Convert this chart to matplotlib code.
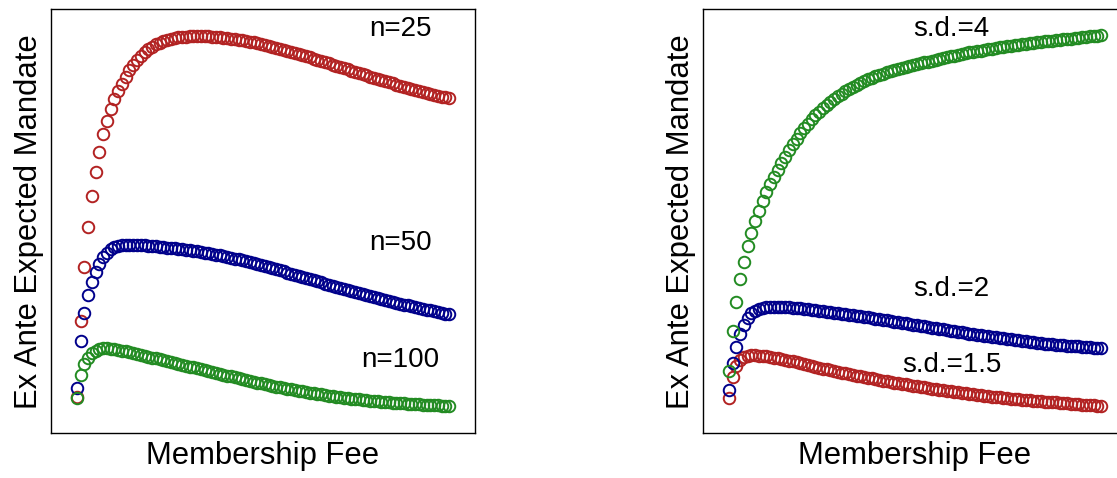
import numpy as np
import matplotlib
matplotlib.use("Agg")
import matplotlib.pyplot as plt

plt.rcParams['font.family'] = ['Liberation Sans', 'DejaVu Sans']

# membership fee grid (100 steps)
fee = np.arange(1, 101)

# left panel: ex ante expected mandate by group size n
n25 = [35.7, 112.5, 166.0, 206.0, 237.0, 261.3, 281.5, 298.7, 312.5, 324.5,
       334.0, 342.0, 349.0, 356.5, 362.8, 368.2, 373.0, 377.2, 380.8, 383.9,
       386.5, 388.7, 390.5, 392.0, 393.2, 394.2, 395.0, 395.6, 396.1, 396.4,
       396.6, 396.7, 396.8, 396.8, 396.7, 396.6, 396.4, 396.1, 395.8, 395.4,
       395.0, 394.5, 394.0, 393.4, 392.8, 392.1, 391.4, 390.7, 389.9, 389.1,
       388.2, 387.3, 386.4, 385.4, 384.4, 383.4, 382.3, 381.2, 380.1, 379.0,
       377.9, 376.8, 375.6, 374.4, 373.2, 372.0, 370.8, 369.6, 368.4, 367.2,
       366.0, 364.8, 363.6, 362.4, 361.2, 360.0, 358.8, 357.6, 356.4, 355.2,
       354.0, 352.9, 351.8, 350.7, 349.6, 348.5, 347.5, 346.5, 345.5, 344.5,
       343.5, 342.5, 341.5, 340.5, 339.5, 338.5, 337.5, 336.5, 335.6, 334.7]

n50 = [45.5, 92.0, 119.7, 138.5, 151.3, 161.0, 169.5, 176.0, 180.5, 183.7,
       185.7, 187.0, 187.8, 188.2, 188.4, 188.4, 188.3, 188.1, 187.8, 187.5,
       187.1, 186.7, 186.3, 185.9, 185.5, 185.1, 184.8, 184.4, 183.9, 183.5,
       183.0, 182.4, 181.8, 181.2, 180.5, 179.8, 179.1, 178.4, 177.7, 176.9,
       176.1, 175.3, 174.5, 173.7, 172.7, 171.8, 170.9, 169.9, 168.9, 167.9,
       166.9, 165.9, 164.9, 163.8, 162.7, 161.6, 160.5, 159.4, 158.3, 157.2,
       156.1, 155.0, 153.9, 152.8, 151.7, 150.6, 149.5, 148.4, 147.3, 146.2,
       145.1, 144.1, 143.1, 142.1, 141.1, 140.1, 139.1, 138.1, 137.1, 136.1,
       135.1, 134.1, 133.1, 132.1, 131.2, 130.3, 129.4, 128.5, 127.6, 126.7,
       125.9, 125.1, 124.3, 123.5, 122.7, 121.9, 121.1, 120.3, 119.5, 118.7]

n100 = [35.2, 58.0, 69.0, 75.5, 80.0, 82.5, 84.0, 84.6, 84.6, 84.3,
        83.8, 83.2, 82.5, 81.7, 80.9, 80.0, 79.1, 78.2, 77.3, 76.4,
        75.5, 74.6, 73.7, 72.8, 71.9, 71.0, 70.1, 69.2, 68.3, 67.4,
        66.5, 65.6, 64.7, 63.8, 62.9, 62.0, 61.1, 60.2, 59.3, 58.4,
        57.5, 56.6, 55.7, 54.8, 53.9, 53.0, 52.1, 51.3, 50.5, 49.7,
        48.9, 48.1, 47.3, 46.5, 45.8, 45.1, 44.4, 43.7, 43.0, 42.3,
        41.6, 41.0, 40.4, 39.8, 39.2, 38.6, 38.0, 37.5, 37.0, 36.5,
        36.0, 35.5, 35.0, 34.5, 34.0, 33.6, 33.2, 32.8, 32.4, 32.0,
        31.7, 31.4, 31.1, 30.8, 30.5, 30.2, 29.9, 29.6, 29.3, 29.0,
        28.8, 28.6, 28.4, 28.2, 28.0, 27.8, 27.6, 27.4, 27.2, 27.0]

# right panel: by standard deviation
sd15 = [34.7, 56.3, 67.0, 73.0, 76.0, 77.4, 77.9, 77.8, 77.5, 77.1,
        76.6, 76.0, 75.4, 74.7, 74.0, 73.3, 72.5, 71.7, 70.8, 69.9,
        69.0, 68.1, 67.2, 66.3, 65.4, 64.5, 63.7, 62.9, 62.1, 61.3,
        60.5, 59.7, 58.9, 58.1, 57.4, 56.7, 56.0, 55.3, 54.6, 53.9,
        53.2, 52.5, 51.8, 51.1, 50.5, 49.9, 49.3, 48.7, 48.1, 47.5,
        46.9, 46.3, 45.7, 45.1, 44.5, 43.9, 43.3, 42.8, 42.3, 41.8,
        41.3, 40.8, 40.3, 39.8, 39.3, 38.8, 38.3, 37.8, 37.3, 36.8,
        36.4, 36.0, 35.6, 35.2, 34.8, 34.4, 34.0, 33.6, 33.3, 33.0,
        32.7, 32.4, 32.1, 31.8, 31.5, 31.2, 30.9, 30.6, 30.3, 30.0,
        29.7, 29.4, 29.1, 28.8, 28.5, 28.2, 27.9, 27.6, 27.3, 27.0]

sd2 = [43.0, 70.3, 86.3, 99.0, 108.0, 114.7, 119.7, 122.5, 124.1, 125.0,
       125.6, 126.0, 126.2, 126.3, 126.2, 126.0, 125.7, 125.4, 125.0, 124.6,
       124.2, 123.8, 123.4, 122.9, 122.4, 121.9, 121.4, 120.9, 120.4, 119.9,
       119.4, 118.9, 118.4, 117.9, 117.4, 116.9, 116.3, 115.7, 115.1, 114.5,
       113.9, 113.3, 112.7, 112.1, 111.5, 110.9, 110.3, 109.7, 109.1, 108.5,
       107.9, 107.3, 106.7, 106.1, 105.5, 104.9, 104.3, 103.7, 103.1, 102.5,
       101.9, 101.3, 100.7, 100.1, 99.5, 98.9, 98.3, 97.8, 97.3, 96.8,
       96.3, 95.8, 95.3, 94.8, 94.3, 93.8, 93.3, 92.8, 92.3, 91.8,
       91.3, 90.8, 90.3, 89.9, 89.5, 89.1, 88.7, 88.4, 88.1, 87.8,
       87.5, 87.2, 86.9, 86.6, 86.3, 86.0, 85.7, 85.4, 85.1, 84.8]

sd4 = [62.3, 102.3, 131.3, 153.7, 171.5, 187.0, 200.5, 212.0, 222.5, 232.0,
       240.7, 248.7, 256.1, 263.2, 270.0, 276.5, 282.8, 288.8, 294.5, 299.8,
       304.8, 309.4, 313.7, 317.6, 321.3, 324.8, 328.1, 331.2, 334.1, 336.9,
       339.5, 341.9, 344.1, 346.2, 348.2, 350.1, 351.9, 353.6, 355.2, 356.7,
       358.1, 359.4, 360.6, 361.8, 362.9, 363.9, 364.8, 365.7, 366.7, 367.7,
       368.7, 369.7, 370.6, 371.5, 372.4, 373.3, 374.2, 375.0, 375.8, 376.6,
       377.4, 378.2, 379.0, 379.8, 380.6, 381.2, 381.8, 382.5, 383.1, 383.7,
       384.3, 385.0, 385.6, 386.2, 386.7, 387.2, 387.7, 388.2, 388.8, 389.3,
       389.8, 390.3, 390.8, 391.2, 391.6, 392.0, 392.4, 392.8, 393.2, 393.6,
       394.0, 394.4, 394.8, 395.3, 395.7, 396.2, 396.6, 397.1, 397.5, 398.0]

red = '#B22222'
blue = '#00008B'
green = '#228B22'

left_series = [(n25, red, 'n=25', 404.5), (n50, blue, 'n=50', 190),
               (n100, green, 'n=100', 73)]
right_series = [(sd15, red, 's.d.=1.5', 68), (sd2, blue, 's.d.=2', 144.5),
                (sd4, green, 's.d.=4', 404.5)]

fig = plt.figure(figsize=(11.17, 4.78), dpi=100)
ax1 = fig.add_axes([0.04566, 0.09414, 0.37959, 0.8864])
ax2 = fig.add_axes([0.62936, 0.09414, 0.37959, 0.8864])

for ax, series, lab_x in [(ax1, left_series, 87.0), (ax2, right_series, 60.2)]:
    for vals, col, lab, lab_y in series:
        ax.plot(fee, vals, 'o', mfc='none', mec=col, ms=8.3, mew=1.4)
        ax.text(lab_x, lab_y, lab, fontsize=20, ha='center', va='center')
    ax.set_xlim(-5.87, 106.9)
    ax.set_ylim(0, 423.7)
    ax.set_xticks([])
    ax.set_yticks([])
    for sp in ax.spines.values():
        sp.set_linewidth(1.0)
    ax.set_xlabel('Membership Fee', fontsize=22.3, labelpad=6)
    ax.set_ylabel('Ex Ante Expected Mandate', fontsize=22.3, labelpad=5)

fig.savefig('out.png', dpi=100, facecolor='white')
